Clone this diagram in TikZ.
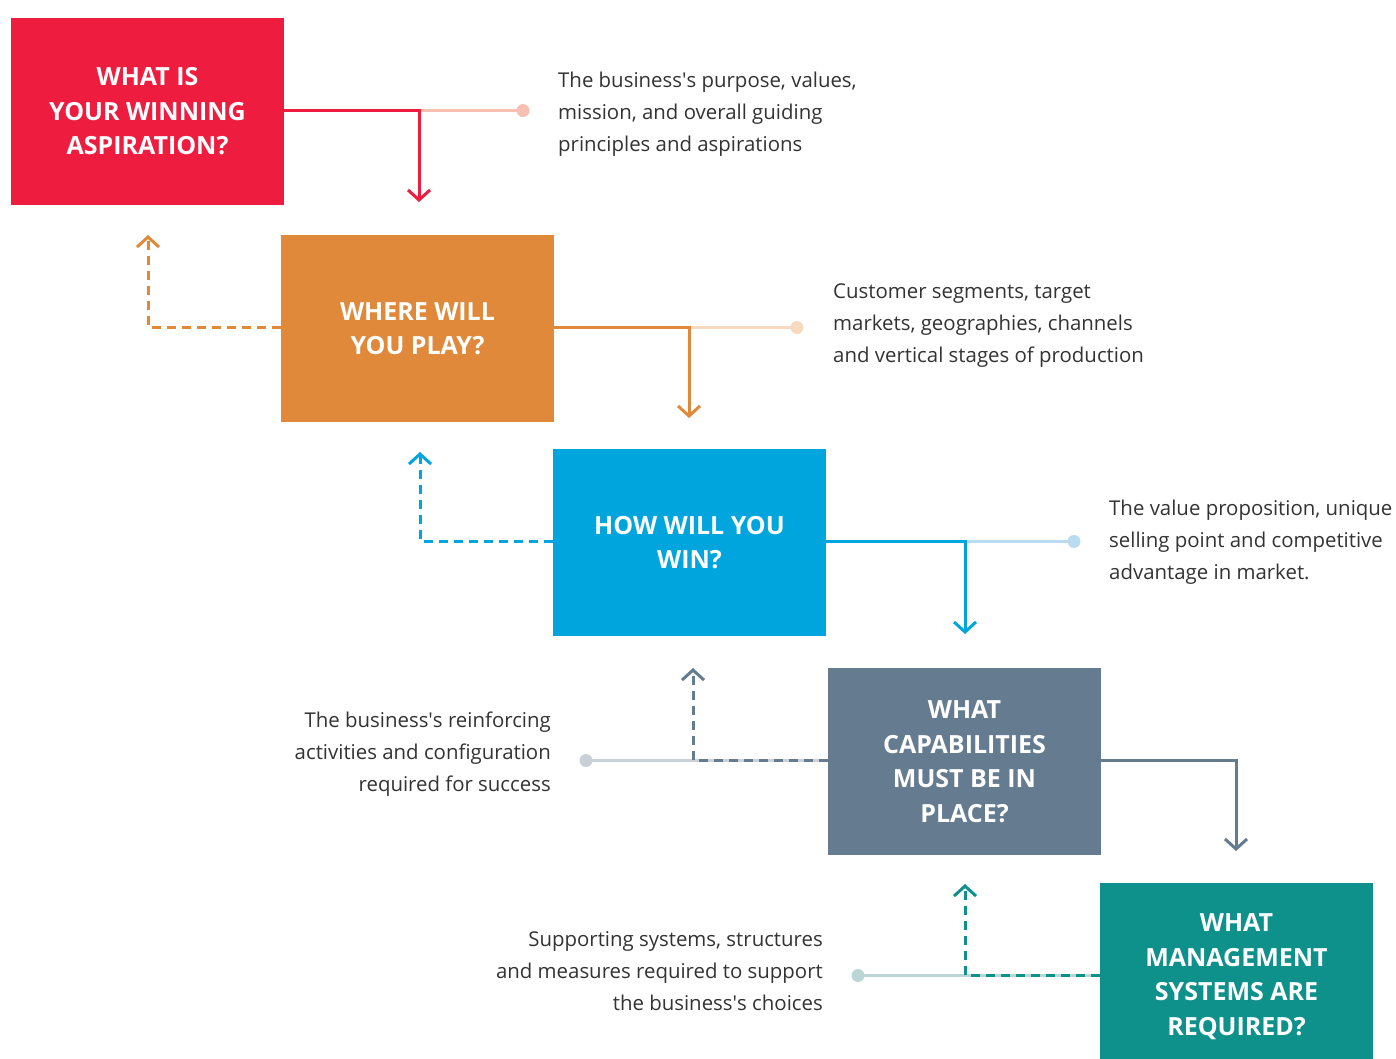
\documentclass[tikz,border=0pt]{standalone}
\usepackage{fontspec}
\setmainfont{Open Sans}
\usepackage{tikz}
\usetikzlibrary{arrows.meta,positioning}
\usepackage{xcolor}
\definecolor{spred}{RGB}{238,28,63}
\definecolor{spredl}{RGB}{247,192,176}
\definecolor{sporange}{RGB}{224,137,58}
\definecolor{sporangel}{RGB}{245,218,192}
\definecolor{spblue}{RGB}{0,165,222}
\definecolor{spbluel}{RGB}{186,220,240}
\definecolor{spslate}{RGB}{101,123,144}
\definecolor{spslatel}{RGB}{201,208,216}
\definecolor{spteal}{RGB}{14,145,138}
\definecolor{spteall}{RGB}{186,214,213}
\definecolor{sptext}{RGB}{51,51,51}
\newcommand{\apos}{\textquotesingle}
\tikzstyle{box} = [minimum width=273pt, minimum height=187pt, inner sep=0pt, text=white, align=center, font=\bfseries\fontsize{25}{34.5}\selectfont]
\tikzstyle{desc} = [inner sep=0pt, text=sptext, font=\fontsize{20.4}{32}\selectfont]
\tikzstyle{link} = [line width=3pt, -{Straight Barb[length=10pt,width=22pt,line width=3pt]}]
\tikzstyle{back} = [link, dash pattern=on 9pt off 6pt]
\tikzstyle{hint} = [line width=3pt]

\begin{document}
\begin{tikzpicture}[x=1pt, y=-1pt]
\clip (0,0) rectangle (1396,1058);
% Boxes
\node[box, fill=spred] (aspiration) at (147.5,111.5) {WHAT IS\\YOUR WINNING\\ASPIRATION?};
\node[box, fill=sporange] (play) at (417.5,328.5) {WHERE WILL\\YOU PLAY?};
\node[box, fill=spblue] (win) at (689.5,542.5) {HOW WILL YOU\\WIN?};
\node[box, fill=spslate] (capab) at (964.5,761.5) {WHAT\\CAPABILITIES\\MUST BE IN\\PLACE?};
\node[box, fill=spteal] (mgmt) at (1236.5,976.5) {WHAT\\MANAGEMENT\\SYSTEMS ARE\\REQUIRED?};

% Descriptions
\node[desc, anchor=west, align=left] (aspirationtxt) at (558,114) {The business\apos s purpose, values,\\mission, and overall guiding\\principles and aspirations};
\node[desc, anchor=west, align=left] (playtxt) at (833,326) {Customer segments, target\\markets, geographies, channels\\and vertical stages of production};
\node[desc, anchor=west, align=left] (wintxt) at (1109,542) {The value proposition, unique\\selling point and competitive\\advantage in market.};
\node[desc, anchor=east, align=right] (capabtxt) at (551,754) {The business\apos s reinforcing\\activities and configuration\\required for success};
\node[desc, anchor=east, align=right] (mgmttxt) at (823,971) {Supporting systems, structures\\and measures required to support\\the business\apos s choices};

% Elbows, tips and dots
\coordinate (e1) at (419,110.5);
\coordinate (t1) at (419,202);
\coordinate (d1) at (523,110.5);
\coordinate (e2) at (689,327.5);
\coordinate (t2) at (689,418);
\coordinate (d2) at (797,327.5);
\coordinate (e3) at (965,541.5);
\coordinate (t3) at (965,634);
\coordinate (d3) at (1074,541.5);
\coordinate (t4) at (1236,851);
\coordinate (u2) at (148,235);
\coordinate (u3) at (420,452);
\coordinate (u4) at (693,668);
\coordinate (d4) at (586,760.5);
\coordinate (u5) at (965,884);
\coordinate (d5) at (858,975.5);

% Light lines to the descriptions
\draw[hint, spredl] (e1) -- (d1);
\fill[spredl] (d1) circle (6.5pt);
\draw[hint, sporangel] (e2) -- (d2);
\fill[sporangel] (d2) circle (6.5pt);
\draw[hint, spbluel] (e3) -- (d3);
\fill[spbluel] (d3) circle (6.5pt);
\draw[hint, spslatel] (d4) -- (d4 -| capab.west);
\fill[spslatel] (d4) circle (6.5pt);
\draw[hint, spteall] (d5) -- (d5 -| mgmt.west);
\fill[spteall] (d5) circle (6.5pt);

% Forward arrows
\draw[link, spred] (aspiration.east |- e1) -| (t1);
\draw[link, sporange] (play.east |- e2) -| (t2);
\draw[link, spblue] (win.east |- e3) -| (t3);
\draw[link, spslate] (capab.east |- d4) -| (t4);

% Feedback arrows
\draw[back, sporange] (play.west |- e2) -| (u2);
\draw[back, spblue] (win.west |- e3) -| (u3);
\draw[back, spslate] (capab.west |- d4) -| (u4);
\draw[back, spteal] (mgmt.west |- d5) -| (u5);
\end{tikzpicture}
\end{document}
